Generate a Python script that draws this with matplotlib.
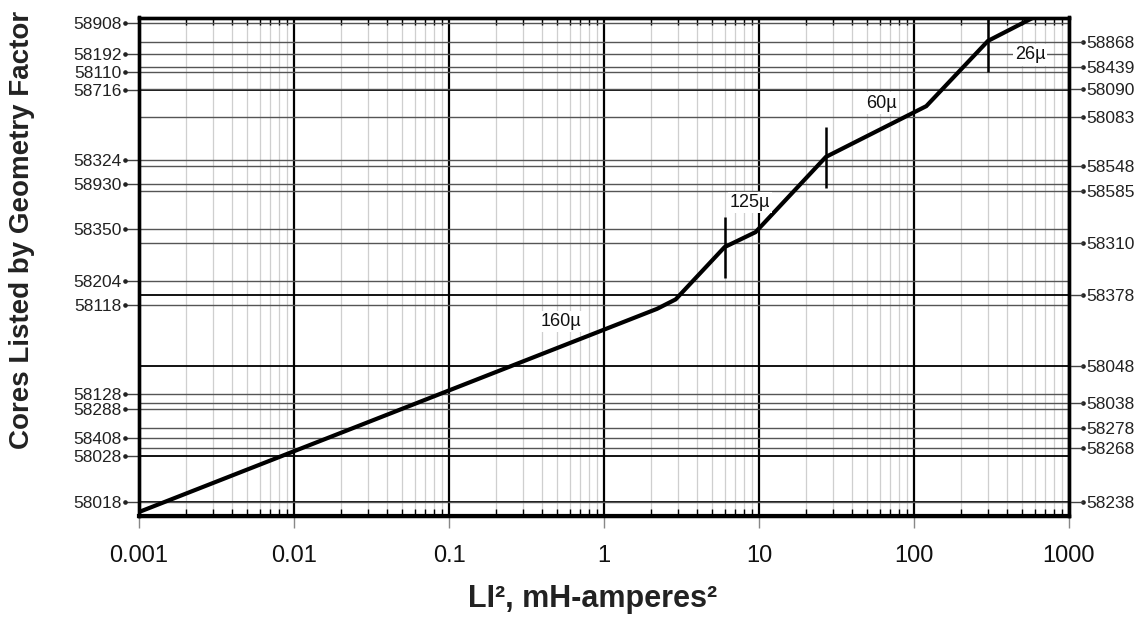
import matplotlib
matplotlib.use("Agg")
import matplotlib.pyplot as plt
import matplotlib.transforms as mtransforms
import numpy as np

plt.rcParams['font.family'] = ['Liberation Sans', 'DejaVu Sans']

# ---- data ----
left_cores = ['58908', '58192', '58110', '58716', '58324', '58930', '58350',
              '58204', '58118', '58128', '58288', '58408', '58028', '58018']
left_pos = [98.9, 92.7, 89.0, 85.4, 71.3, 66.5, 57.5,
            47.1, 42.2, 24.4, 21.4, 15.6, 11.9, 2.65]

right_cores = ['58868', '58439', '58090', '58083', '58548', '58585', '58310',
               '58378', '58048', '58038', '58278', '58268', '58238']
right_pos = [95.1, 90.1, 85.6, 80.0, 70.2, 65.2, 54.7,
             44.3, 30.0, 22.5, 17.5, 13.6, 2.65]

dark_cores = ['58716', '58378', '58048', '58028', '58018']

curve_li2 = [0.001, 2.2, 2.9, 6.0, 9.5, 27.0, 120.0, 300.0, 590.0]
curve_pos = [0.7, 41.5, 43.4, 53.9, 56.9, 72.0, 82.2, 95.3, 100.0]

divider_li2 = [6.0, 27.0, 300.0]
divider_lo = [47.6, 65.8, 89.0]
divider_hi = [59.9, 78.0, 99.6]

perm_labels = ['160µ', '125µ', '60µ', '26µ']
perm_li2 = [0.53, 8.75, 62.0, 560.0]
perm_pos = [38.9, 62.8, 82.8, 92.5]

x_ticks = [0.001, 0.01, 0.1, 1, 10, 100, 1000]
x_ticklabels = ['0.001', '0.01', '0.1', '1', '10', '100', '1000']

# ---- figure ----
W, H = 1141, 619
fig = plt.figure(figsize=(W / 100, H / 100), dpi=100)
ax = fig.add_axes([139 / W, 1 - 515.5 / H, (1069 - 139) / W, (515.5 - 17.5) / H])
ax.set_xscale('log')
ax.set_xlim(0.001, 1000)
ax.set_ylim(0, 100)

# vertical grid
ax.grid(True, which='minor', axis='x', color='#cfcfcf', lw=0.9, zorder=1)
ax.grid(True, which='major', axis='x', color='black', lw=1.6, zorder=2)

# horizontal lines
dark_set = set(dark_cores)
for name, p in list(zip(left_cores, left_pos)) + list(zip(right_cores, right_pos)):
    if name in dark_set:
        ax.axhline(p, color='black', lw=1.3, zorder=3)
    else:
        ax.axhline(p, color='#555555', lw=1.0, zorder=3)

# curve
ax.plot(curve_li2, curve_pos, color='black', lw=3.0, zorder=6,
        solid_joinstyle='miter', solid_capstyle='butt', clip_on=True)
ax.vlines(divider_li2, divider_lo, divider_hi, color='black', lw=1.8, zorder=6)

for t, x, y in zip(perm_labels, perm_li2, perm_pos):
    ax.text(x, y, t, ha='center', va='center', fontsize=13, color='#111111',
            zorder=7, bbox=dict(facecolor='white', edgecolor='none', pad=1.5))

# x ticks
ax.set_xticks(x_ticks)
ax.set_xticklabels(x_ticklabels)
ax.tick_params(axis='x', which='major', direction='out', length=8.6, width=1.0,
               color='#888888', labelsize=17, pad=13, labelcolor='#111111',
               bottom=True, top=False)
ax.tick_params(axis='x', which='minor', direction='in', length=5, width=1.0,
               color='black', bottom=True, top=True, labelbottom=False)

# left y ticks
ax.set_yticks(left_pos)
ax.set_yticklabels(left_cores)
ax.tick_params(axis='y', which='major', direction='out', length=10, width=1.0,
               color='#444444', labelsize=12.5, pad=2.5, labelcolor='#222222')
ax.yaxis.set_minor_locator(matplotlib.ticker.NullLocator())

# right y ticks
ax2 = ax.twinx()
ax2.set_ylim(0, 100)
ax2.set_yticks(right_pos)
ax2.set_yticklabels(right_cores)
ax2.tick_params(axis='y', which='major', direction='out', length=10, width=1.0,
                color='#444444', labelsize=12.5, pad=2.5, labelcolor='#222222')

for a in (ax, ax2):
    for s in a.spines.values():
        s.set_linewidth(2.4)
        s.set_color('black')
        s.set_zorder(10)
ax.spines['bottom'].set_linewidth(3.0)

# dots at tick ends
off = 10 / 72
tl = mtransforms.blended_transform_factory(ax.transAxes, ax.transData) + \
    mtransforms.ScaledTranslation(-off, 0, fig.dpi_scale_trans)
tr = mtransforms.blended_transform_factory(ax.transAxes, ax.transData) + \
    mtransforms.ScaledTranslation(off, 0, fig.dpi_scale_trans)
ax.plot(np.zeros(len(left_pos)), left_pos, 'o', ms=2.3, color='#222222',
        transform=tl, clip_on=False)
ax.plot(np.ones(len(right_pos)), right_pos, 'o', ms=2.3, color='#222222',
        transform=tr, clip_on=False)

# axis titles
fig.text(22 / W, 1 - 230 / H, 'Cores Listed by Geometry Factor', rotation=90,
         ha='center', va='center', fontsize=20, fontweight='bold', color='#222222')
fig.text(593 / W, 1 - 599 / H, 'LI², mH-amperes²', ha='center', va='center',
         fontsize=22, fontweight='bold', color='#222222')

fig.savefig('out.png', dpi=100)
